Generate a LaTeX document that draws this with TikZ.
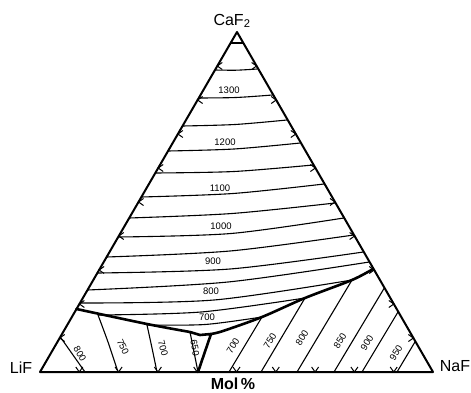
\documentclass[tikz,border=0pt]{standalone}
\usepackage{fontspec}
\setmainfont{Liberation Sans}
\usetikzlibrary{calc}

\begin{document}
\begin{tikzpicture}[x=1pt,y=-1pt,
  edge/.style={line width=2pt,line join=round},
  iso/.style={line width=1.1pt},
  valley/.style={line width=2.6pt,line join=round,line cap=round},
  tick/.style={line width=1pt},
  temp/.style={font=\fontsize{9.5}{10}\selectfont,inner sep=0.5pt},
  comp/.style={font=\fontsize{16}{17}\selectfont,inner sep=1pt}]
  \useasboundingbox (0,0) rectangle (471,393);
  % corners and eutectics
  \coordinate (C) at (237,32);
  \coordinate (L) at (40,372);
  \coordinate (N) at (433,372);
  \coordinate (eLC) at (76.5,309);
  \coordinate (eNC) at (373,269);
  \coordinate (eLN) at (198,372);
  \coordinate (tA) at (190,332);
  \coordinate (tB) at (211,334);

  \draw[edge] (L) -- (C) -- (N) -- cycle;

  % ticks every 10 mol%
  \foreach \k in {1,...,9} {
    \draw[tick] ($(L)!\k/10!(C)$) +(5,-3.5) -- +(0,0) -- +(5,3.5);
    \draw[tick] ($(N)!\k/10!(C)$) +(-5,-3.5) -- +(0,0) -- +(-5,3.5);
    \draw[tick] ($(L)!\k/10!(N)$) +(-3.5,-5) -- +(0,0) -- +(3.5,-5);
  }

  % CaF2 field
  \draw[iso] (230.6,43) -- (243.4,43);
  \foreach \yl/\xm/\ym/\yr in {70/236/70.2/69, 98/236/97.5/95, 126/235/124.5/120,
      151/234/149/143, 173/234/171.5/165, 197/233/193.5/184, 218/232/213.5/203,
      237/231/233.5/218, 257/230/251/235, 273/230/269/252, 290/228/282/262}
    \draw[iso] plot[smooth] coordinates {({40+(372-\yl)*0.5794},\yl) (\xm,\ym) ({433-(372-\yr)*0.5794},\yr)};
  \draw[iso] plot[smooth] coordinates {(80,303) (214,300) (352,280)};
  \draw[iso] plot[smooth] coordinates {(98,315) (201,312) (305,298)};
  \draw[iso] plot[smooth] coordinates {(147,325) (205,324.5) (262,317)};

  % LiF field
  \draw[iso] (60.3,337) -- (85,372);
  \draw[iso] plot[smooth] coordinates {(98,315) (108,342) (118,372)};
  \draw[iso] plot[smooth] coordinates {(147,325) (152,348) (157,372)};
  \draw[iso] (tA) -- (eLN);

  % NaF field
  \draw[iso] (262,317) -- (229,372);
  \draw[iso] (305,298) -- (261,372);
  \draw[iso] (352,280) -- (297,372);
  \draw[iso] (384.3,288) -- (334,372);
  \draw[iso] (398,312) -- (362,372);
  \draw[iso] (415.3,341.4) -- (397,372);

  % boundary curves
  \draw[valley] plot[smooth] coordinates {(eLC) (147,324) (tA)};
  \draw[valley] (tA) -- (200,335) -- (tB) -- (eLN);
  \draw[valley] plot[smooth] coordinates {(tB) (223,331) (262,317) (305,298) (352,280) (eNC)};

  % isotherm labels
  \node[temp] (t1300) at (229,90) {1300};
  \node[temp] (t1200) at (225,142.5) {1200};
  \node[temp] (t1100) at (220,188) {1100};
  \node[temp] (t1000) at (221,226.5) {1000};
  \node[temp] (t900) at (213,261.5) {900};
  \node[temp] (t800) at (211,291.5) {800};
  \node[temp] (t700) at (207,317) {700};
  \node[temp,rotate=-60] (l800) at (80,354) {800};
  \node[temp,rotate=-65] (l750) at (123,347) {750};
  \node[temp,rotate=-75] (l700) at (163,348) {700};
  \node[temp,rotate=-80] (l650) at (195,348) {650};
  \node[temp,rotate=58] (n700) at (233,346) {700};
  \node[temp,rotate=58] (n750) at (270,341) {750};
  \node[temp,rotate=58] (n800) at (302,338) {800};
  \node[temp,rotate=58] (n850) at (340,341) {850};
  \node[temp,rotate=58] (n900) at (367,343) {900};
  \node[temp,rotate=58] (n950) at (396,353) {950};

  % components
  \node[comp] (caf) at (232,21) {CaF\textsubscript{2}};
  \node[comp] (lif) at (21,368) {LiF};
  \node[comp] (naf) at (455,366) {NaF};
  \node[comp,font=\bfseries\fontsize{16}{17}\selectfont] (mol) at (233,384) {Mol\,\%};
\end{tikzpicture}
\end{document}
